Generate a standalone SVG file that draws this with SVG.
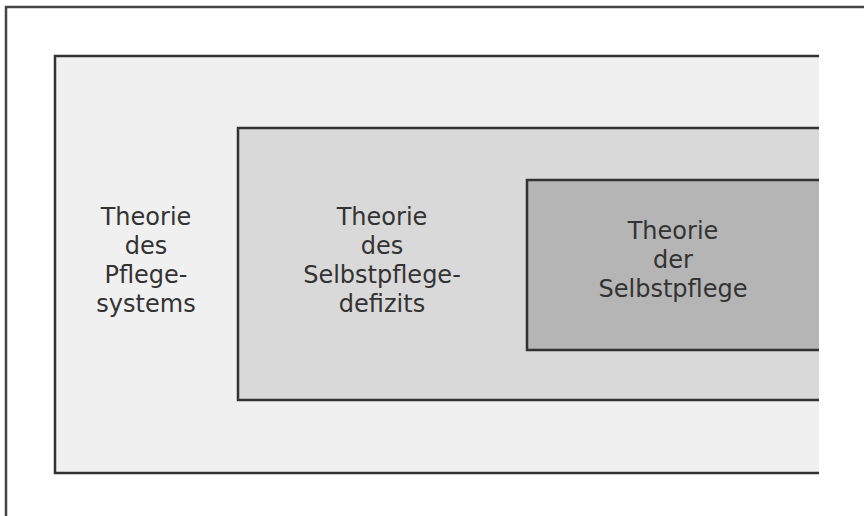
<svg xmlns="http://www.w3.org/2000/svg" width="864" height="516" viewBox="0 0 864 516">
<style>
.edge{fill:none;stroke:#333;stroke-width:2.5}
.t{font-family:"DejaVu Sans",sans-serif;font-size:24px;fill:#333;text-anchor:middle}
</style>
<rect x="0" y="0" width="864" height="516" fill="#fff"/>
<g id="frame"><path d="M6,516 V7 H864" fill="none" stroke="#444" stroke-width="2.5"/></g>
<g id="pflegesystem">
<rect x="55" y="56" width="764" height="417" fill="#f0f0f0"/>
<path class="edge" d="M819,56 H55 V473 H819"/>
<text class="t" x="146" y="225">Theorie</text>
<text class="t" x="146" y="254">des</text>
<text class="t" x="146" y="283">Pflege-</text>
<text class="t" x="146" y="312">systems</text>
</g>
<g id="selbstpflegedefizit">
<rect x="238" y="128" width="581" height="272" fill="#d9d9d9"/>
<path class="edge" d="M819,128 H238 V400 H819"/>
<text class="t" x="382" y="225">Theorie</text>
<text class="t" x="382" y="254">des</text>
<text class="t" x="382" y="283">Selbstpflege-</text>
<text class="t" x="382" y="312">defizits</text>
</g>
<g id="selbstpflege">
<rect x="527" y="180" width="292" height="170" fill="#b5b5b5"/>
<path class="edge" d="M819,180 H527 V350 H819"/>
<text class="t" x="673" y="239">Theorie</text>
<text class="t" x="673" y="268">der</text>
<text class="t" x="673" y="297">Selbstpflege</text>
</g>
<g id="connectors"/>
</svg>
